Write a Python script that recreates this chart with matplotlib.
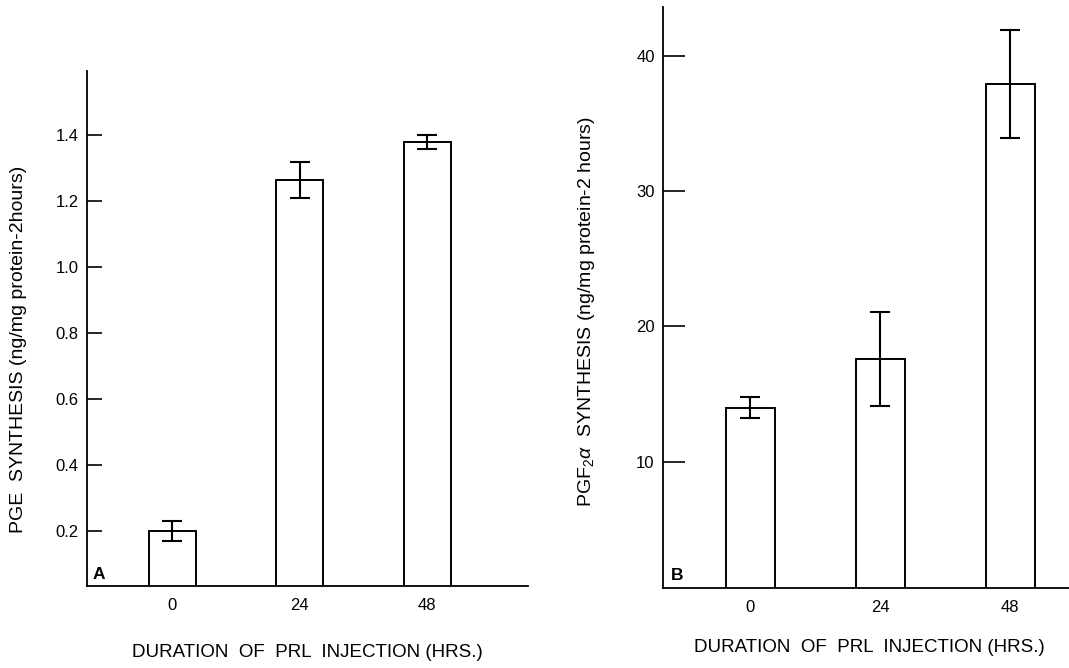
import matplotlib
matplotlib.use("Agg")
import matplotlib.pyplot as plt
import numpy as np

# ---- data ----
categories = ["0", "24", "48"]
pge_values = [0.20, 1.265, 1.38]
pge_errors = [0.03, 0.055, 0.022]
pgf_values = [14.0, 17.6, 37.9]
pgf_errors = [0.75, 3.5, 4.0]
pge_ticks = [0.2, 0.4, 0.6, 0.8, 1.0, 1.2, 1.4]
pgf_ticks = [10, 20, 30, 40]

plt.rcParams['font.family'] = ['Liberation Sans', 'DejaVu Sans']
plt.rcParams['mathtext.fontset'] = 'custom'
plt.rcParams['mathtext.rm'] = 'Liberation Sans'
plt.rcParams['mathtext.it'] = 'Liberation Sans:italic'

W, H = 1069, 668
fig = plt.figure(figsize=(W / 100, H / 100), dpi=100)

def px_axes(l, r, b, t):
    return fig.add_axes([l / W, (H - b) / H, (r - l) / W, (b - t) / H])

axA = px_axes(87, 528, 586, 71)
axB = px_axes(663, 1075, 588, 7)

x = np.arange(len(categories))
lw = 1.4

def style(ax, ticks, fmt, ticklen):
    for s in ['top', 'right']:
        ax.spines[s].set_visible(False)
    for s in ['left', 'bottom']:
        ax.spines[s].set_linewidth(1.3)
    ax.set_yticks(ticks)
    ax.set_yticklabels([fmt(t) for t in ticks], fontsize=12)
    ax.tick_params(axis='y', direction='in', length=ticklen, width=1.2, pad=6)
    ax.set_xticks(x)
    ax.set_xticklabels(categories, fontsize=12)
    ax.tick_params(axis='x', length=0, pad=9)

# Panel A
axA.bar(x, pge_values, width=0.37, color='white', edgecolor='black', linewidth=lw)
axA.errorbar(x, pge_values, yerr=pge_errors, fmt='none', ecolor='black',
             elinewidth=1.5, capsize=7, capthick=1.5)
axA.set_xlim(-0.67, 2.79)
axA.set_ylim(0.033, 1.595)
style(axA, pge_ticks, lambda t: f"{t:.1f}", 11)
axA.set_ylabel("PGE  SYNTHESIS (ng/mg protein-2hours)", fontsize=14)
axA.yaxis.set_label_coords(-0.135, 0.46)
axA.set_xlabel("DURATION  OF  PRL  INJECTION (HRS.)", fontsize=13.5, labelpad=22)
axA.text(0.027, 0.022, "A", transform=axA.transAxes, fontsize=12.5,
         fontweight='bold', ha='center', va='center')

# Panel B
axB.bar(x, pgf_values, width=0.377, color='white', edgecolor='black', linewidth=lw)
axB.errorbar(x, pgf_values, yerr=pgf_errors, fmt='none', ecolor='black',
             elinewidth=1.5, capsize=7, capthick=1.5)
axB.set_xlim(-0.67, 2.5)
axB.set_ylim(0.67, 43.6)
style(axB, pgf_ticks, lambda t: f"{t:d}", 16)
axB.set_ylabel("PGF$_2\\alpha$  SYNTHESIS (ng/mg protein-2 hours)", fontsize=14)
axB.yaxis.set_label_coords(-0.16, 0.475)
axB.set_xlabel("DURATION  OF  PRL  INJECTION (HRS.)", fontsize=13.5, labelpad=17)
axB.text(0.034, 0.022, "B", transform=axB.transAxes, fontsize=12.5,
         fontweight='bold', ha='center', va='center')

fig.savefig("out.png", dpi=100)
